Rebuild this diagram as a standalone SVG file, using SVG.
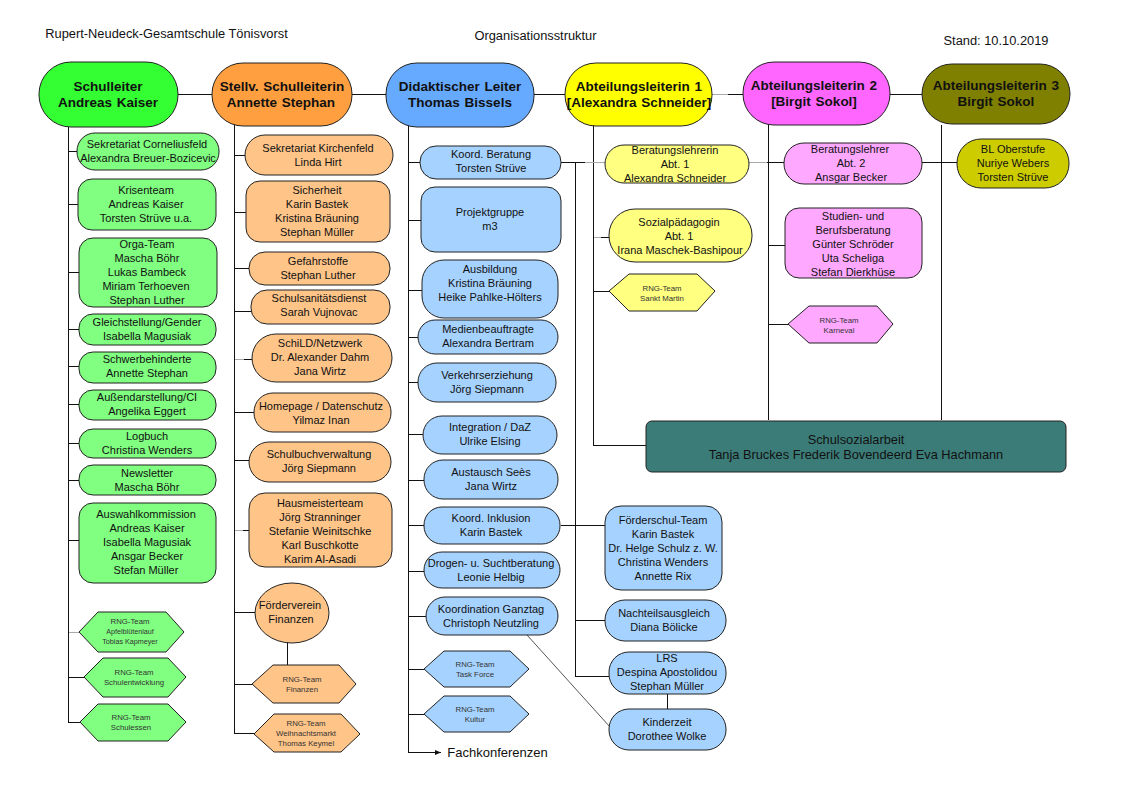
<svg xmlns="http://www.w3.org/2000/svg" width="1123" height="794" viewBox="0 0 1123 794">
<style>
text{font-family:"Liberation Sans",Arial,sans-serif;font-size:11px;fill:#111;text-anchor:middle}
.b text{font-weight:bold;font-size:13.500px;word-spacing:1px}
.s text{font-size:7.800px;fill:#333}
rect,polygon,ellipse{stroke:#222;stroke-width:1}
.g{fill:#80ff80}.o{fill:#ffc488}.u{fill:#a6d2ff}.y{fill:#ffff80}.p{fill:#ffa8ff}
.t{font-size:12.850px}
#connectors line,#connectors path{stroke:#111;stroke-width:1;fill:none;shape-rendering:crispEdges}
#connectors path.l{stroke:#aaa}
</style>
<defs><marker id="a" markerWidth="7" markerHeight="6" refX="6" refY="3" orient="auto"><path d="M0 .5L6 3L0 5.500z" fill="#111"/></marker></defs>
<text class="t" x="166.500" y="38">Rupert-Neudeck-Gesamtschule Tönisvorst</text>
<text class="t" x="535.500" y="40">Organisationsstruktur</text>
<text class="t" x="996" y="45">Stand:  10.10.2019</text>
<g id="connectors">
<path d="M178 94.500H922"/>
<path d="M68.500 127V722.500H80M68 151.500H77M68 204.500H78M68 272.500H79M68 329.500H79M68 366.500H79M68 404.500H79M68 443.500H79M68 480.500H79M68 540.500H79M68 632.500H79M68 677.500H84"/>
<path d="M234.500 122V733.500H254M234 155.500H245M234 212.500H246M234 268.500H249M234 311.500H251M234 359.500H252M234 412.500H254M234 460.500H249M234 530.500H249M234 612.500H255M234 684.500H252"/>
<path d="M408.500 125V752.500H441" marker-end="url(#a)"/>
<path d="M408 162.500H420M408 220.500H421M408 290.500H422M408 337.500H418M408 382.500H418M408 434.500H423M408 480.500H424M408 525.500H424M408 571.500H424M408 616.500H426M408 669.500H424M408 714.500H424"/>
<path d="M561 162.500H605M575.500 162V676.500H609M561 525.500H605M575 620.500H605"/>
<path d="M593.500 125V445.500H646M593 237.500H610M593 291.500H609"/>
<path d="M768.500 125V420M749 162.500H784M768 245.500H785M768 324.500H788"/>
<path d="M941.500 125V420M922 162.500H957"/>
<path d="M667.500 694V709M287.500 642V665"/>
<line x1="527" y1="635" x2="610" y2="727" style="shape-rendering:auto;stroke:#555"/>
<path class="l" d="M712 94.500H728M585 162.500H605M749 162.500H767M69 632.500H79M235 530.500H243M235 359.500H244M594 237.500H601"/>
</g>
<g id="n1" class="b"><rect x="39" y="62" width="139" height="65" rx="32" fill="#33ff33"/><text x="108" y="91">Schulleiter</text><text x="108" y="107">Andreas Kaiser</text></g>
<g id="n2" class="b"><rect x="212" y="63" width="140" height="63" rx="31" fill="#ff9f3f"/><text x="282" y="91">Stellv. Schulleiterin</text><text x="281" y="107">Annette Stephan</text></g>
<g id="n3" class="b"><rect x="386" y="63" width="148" height="64" rx="31" fill="#66aaff"/><text x="460" y="91">Didaktischer Leiter</text><text x="460" y="107">Thomas Bissels</text></g>
<g id="n4" class="b"><rect x="565" y="63" width="147" height="63" rx="31" fill="#ffff00"/><text x="639" y="91">Abteilungsleiterin 1</text><text x="639" y="107">[Alexandra Schneider]</text></g>
<g id="n5" class="b"><rect x="743" y="62" width="147" height="63" rx="31" fill="#ff66ff"/><text x="814" y="90">Abteilungsleiterin 2</text><text x="814" y="106">[Birgit Sokol]</text></g>
<g id="n6" class="b"><rect x="922" y="64" width="148" height="60" rx="30" fill="#7f7f00"/><text x="996" y="90">Abteilungsleiterin 3</text><text x="996" y="106">Birgit Sokol</text></g>

<g id="g1"><rect class="g" x="77" y="133" width="142" height="37" rx="18"/><text x="147" y="148">Sekretariat Corneliusfeld</text><text x="148" y="162">Alexandra Breuer-Bozicevic</text></g>
<g id="g2"><rect class="g" x="78" y="179" width="138" height="51" rx="14"/><text x="146" y="194">Krisenteam</text><text x="146" y="208">Andreas Kaiser</text><text x="146" y="222">Torsten Strüve u.a.</text></g>
<g id="g3"><rect class="g" x="79" y="238" width="138" height="69" rx="14"/><text x="147" y="248">Orga-Team</text><text x="147" y="262">Mascha Böhr</text><text x="147" y="276">Lukas Bambeck</text><text x="146" y="290">Miriam Terhoeven</text><text x="147" y="304">Stephan Luther</text></g>
<g id="g4"><rect class="g" x="79" y="314" width="137" height="31" rx="14"/><text x="147" y="326">Gleichstellung/Gender</text><text x="147" y="340">Isabella Magusiak</text></g>
<g id="g5"><rect class="g" x="79" y="352" width="137" height="31" rx="14"/><text x="147" y="363">Schwerbehinderte</text><text x="147" y="377">Annette Stephan</text></g>
<g id="g6"><rect class="g" x="79" y="390" width="137" height="30" rx="14"/><text x="147" y="401">Außendarstellung/CI</text><text x="147" y="415">Angelika Eggert</text></g>
<g id="g7"><rect class="g" x="79" y="429" width="137" height="29" rx="14"/><text x="147" y="440">Logbuch</text><text x="147" y="454">Christina Wenders</text></g>
<g id="g8"><rect class="g" x="79" y="465" width="137" height="30" rx="14"/><text x="147" y="477">Newsletter</text><text x="147" y="491">Mascha Böhr</text></g>
<g id="g9"><rect class="g" x="79" y="503" width="137" height="80" rx="14"/><text x="146" y="518">Auswahlkommission</text><text x="147" y="532">Andreas Kaiser</text><text x="147" y="546">Isabella Magusiak</text><text x="147" y="560">Ansgar Becker</text><text x="146" y="574">Stefan Müller</text></g>
<g id="g10" class="s"><polygon class="g" points="79,632 98,612 166,612 184,632 166,652 98,652"/><text x="130" y="624">RNG-Team</text><text x="130" y="634" style="font-size:7.200px">Apfelblütenlauf</text><text x="130" y="644" style="font-size:7.200px">Tobias Kapmeyer</text></g>
<g id="g11" class="s"><polygon class="g" points="84,677 103,658 168,658 186,677 168,697 103,697"/><text x="134" y="675">RNG-Team</text><text x="134" y="685">Schulentwicklung</text></g>
<g id="g12" class="s"><polygon class="g" points="80,722 98,704 168,704 186,722 168,741 98,741"/><text x="131" y="720">RNG-Team</text><text x="131" y="730">Schulessen</text></g>

<g id="o1"><rect class="o" x="245" y="135" width="148" height="40" rx="20"/><text x="318" y="152">Sekretariat Kirchenfeld</text><text x="318" y="166">Linda Hirt</text></g>
<g id="o2"><rect class="o" x="246" y="181" width="144" height="61" rx="14"/><text x="317" y="194">Sicherheit</text><text x="317" y="208">Karin Bastek</text><text x="317" y="222">Kristina Bräuning</text><text x="317" y="236">Stephan Müller</text></g>
<g id="o3"><rect class="o" x="249" y="252" width="141" height="33" rx="16"/><text x="318" y="265">Gefahrstoffe</text><text x="318" y="279">Stephan Luther</text></g>
<g id="o4"><rect class="o" x="251" y="290" width="139" height="34" rx="16"/><text x="319" y="302">Schulsanitätsdienst</text><text x="319" y="316">Sarah Vujnovac</text></g>
<g id="o5"><rect class="o" x="252" y="334" width="140" height="48" rx="24"/><text x="320" y="347">SchiLD/Netzwerk</text><text x="320" y="361">Dr. Alexander Dahm</text><text x="320" y="375">Jana Wirtz</text></g>
<g id="o6"><rect class="o" x="254" y="393" width="137" height="39" rx="19"/><text x="321" y="410">Homepage / Datenschutz</text><text x="321" y="424">Yilmaz Inan</text></g>
<g id="o7"><rect class="o" x="249" y="442" width="142" height="40" rx="20"/><text x="319" y="458">Schulbuchverwaltung</text><text x="319" y="472">Jörg Siepmann</text></g>
<g id="o8"><rect class="o" x="249" y="493" width="143" height="74" rx="16"/><text x="320" y="507">Hausmeisterteam</text><text x="320" y="521">Jörg Stranninger</text><text x="320" y="535">Stefanie Weinitschke</text><text x="320" y="549">Karl Buschkotte</text><text x="320" y="563">Karim Al-Asadi</text></g>
<g id="o9"><ellipse class="o" cx="292" cy="613" rx="37" ry="30"/><text x="290" y="609">Förderverein</text><text x="291" y="623">Finanzen</text></g>
<g id="o10" class="s"><polygon class="o" points="252,684 273,665 339,665 356,684 339,703 273,703"/><text x="302" y="682">RNG-Team</text><text x="302" y="692">Finanzen</text></g>
<g id="o11" class="s"><polygon class="o" points="254,734 274,714 341,714 360,734 341,752 274,752"/><text x="306" y="726">RNG-Team</text><text x="306" y="736">Weihnachtsmarkt</text><text x="306" y="746">Thomas Keymel</text></g>

<g id="u1"><rect class="u" x="420" y="146" width="141" height="33" rx="16"/><text x="491" y="158">Koord. Beratung</text><text x="491" y="172">Torsten Strüve</text></g>
<g id="u2"><rect class="u" x="421" y="187" width="140" height="65" rx="14"/><text x="490" y="216">Projektgruppe</text><text x="490" y="230">m3</text></g>
<g id="u3"><rect class="u" x="422" y="260" width="136" height="58" rx="22"/><text x="490" y="273">Ausbildung</text><text x="490" y="287">Kristina Bräuning</text><text x="490" y="301">Heike Pahlke-Hölters</text></g>
<g id="u4"><rect class="u" x="418" y="320" width="140" height="34" rx="17"/><text x="488" y="333">Medienbeauftragte</text><text x="488" y="347">Alexandra Bertram</text></g>
<g id="u5"><rect class="u" x="418" y="363" width="138" height="39" rx="19"/><text x="487" y="379">Verkehrserziehung</text><text x="487" y="393">Jörg Siepmann</text></g>
<g id="u6"><rect class="u" x="423" y="416" width="134" height="38" rx="19"/><text x="490" y="431">Integration / DaZ</text><text x="490" y="445">Ulrike Elsing</text></g>
<g id="u7"><rect class="u" x="424" y="460" width="134" height="39" rx="19"/><text x="491" y="476">Austausch Seès</text><text x="491" y="490">Jana Wirtz</text></g>
<g id="u8"><rect class="u" x="424" y="507" width="136" height="37" rx="18"/><text x="491" y="522">Koord. Inklusion</text><text x="491" y="536">Karin Bastek</text></g>
<g id="u9"><rect class="u" x="424" y="552" width="136" height="36" rx="18"/><text x="491" y="567">Drogen- u. Suchtberatung</text><text x="491" y="581">Leonie Helbig</text></g>
<g id="u10"><rect class="u" x="426" y="597" width="132" height="38" rx="19"/><text x="491" y="613">Koordination Ganztag</text><text x="491" y="627">Christoph Neutzling</text></g>
<g id="u11" class="s"><polygon class="u" points="424,669 444,651 510,651 529,669 510,687 444,687"/><text x="475" y="667">RNG-Team</text><text x="475" y="677">Task Force</text></g>
<g id="u12" class="s"><polygon class="u" points="424,714 444,696 510,696 529,714 510,732 444,732"/><text x="475" y="712">RNG-Team</text><text x="475" y="722">Kultur</text></g>
<text x="497.500" y="757" style="font-size:13px">Fachkonferenzen</text>
<g id="u13"><rect class="u" x="605" y="506" width="117" height="84" rx="16"/><text x="663" y="524">Förderschul-Team</text><text x="663" y="538">Karin Bastek</text><text x="663" y="552">Dr. Helge Schulz z. W.</text><text x="663" y="566">Christina Wenders</text><text x="663" y="580">Annette Rix</text></g>
<g id="u14"><rect class="u" x="605" y="600" width="121" height="41" rx="20"/><text x="664" y="617">Nachteilsausgleich</text><text x="664" y="631">Diana Bölicke</text></g>
<g id="u15"><rect class="u" x="609" y="652" width="117" height="42" rx="20"/><text x="667" y="662">LRS</text><text x="667" y="676">Despina Apostolidou</text><text x="667" y="690">Stephan Müller</text></g>
<g id="u16"><rect class="u" x="609" y="709" width="117" height="41" rx="20"/><text x="667" y="726">Kinderzeit</text><text x="667" y="740">Dorothee Wolke</text></g>

<g id="y1"><rect class="y" x="605" y="145" width="144" height="38" rx="19"/><text x="675" y="154">Beratungslehrerin</text><text x="675" y="168">Abt. 1</text><text x="675" y="182">Alexandra Schneider</text></g>
<g id="y2"><rect class="y" x="609" y="209" width="143" height="53" rx="26"/><text x="679" y="226">Sozialpädagogin</text><text x="679" y="240">Abt. 1</text><text x="680" y="254">Irana Maschek-Bashipour</text></g>
<g id="y3" class="s"><polygon class="y" points="609,291 629,274 697,274 715,291 697,311 629,311"/><text x="662" y="291">RNG-Team</text><text x="662" y="301">Sankt Martin</text></g>
<g id="p1"><rect class="p" x="784" y="143" width="138" height="41" rx="20"/><text x="850" y="153">Beratungslehrer</text><text x="851" y="167">Abt. 2</text><text x="851" y="181">Ansgar Becker</text></g>
<g id="p2"><rect class="p" x="785" y="208" width="137" height="70" rx="14"/><text x="853" y="220">Studien- und</text><text x="853" y="234">Berufsberatung</text><text x="853" y="248">Günter Schröder</text><text x="853" y="262">Uta Scheliga</text><text x="853" y="276">Stefan Dierkhüse</text></g>
<g id="p3" class="s"><polygon class="p" points="788,324 809,306 877,306 893,324 877,343 809,343"/><text x="839" y="323">RNG-Team</text><text x="839" y="333">Karneval</text></g>
<g id="h1"><rect x="957" y="139" width="112" height="49" rx="24" fill="#cccc00"/><text x="1013" y="153">BL Oberstufe</text><text x="1013" y="167">Nuriye Webers</text><text x="1013" y="181">Torsten Strüve</text></g>
<g id="s1"><rect x="646" y="421" width="420" height="51" rx="6" fill="#3c7c78"/><text x="856" y="444" style="font-size:12.800px">Schulsozialarbeit</text><text x="856" y="459" style="font-size:12.800px">Tanja Bruckes Frederik Bovendeerd Eva Hachmann</text></g>
</svg>
